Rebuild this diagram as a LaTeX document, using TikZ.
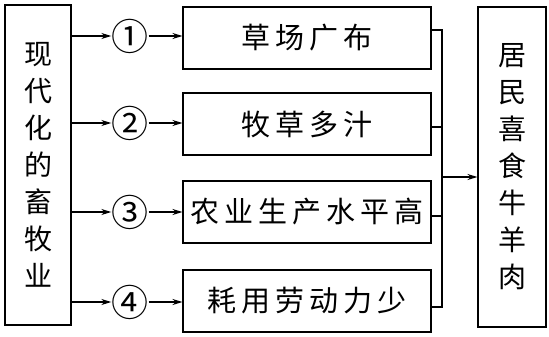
\documentclass[tikz,border=0pt]{standalone}
\usepackage{fontspec}
\newfontfamily\cjk{Noto Sans CJK SC}
\usetikzlibrary{arrows.meta,positioning}
\newcommand{\gp}{\hspace{5pt}}

\begin{document}
\begin{tikzpicture}[x=1pt,y=-1pt,
  tall/.style={draw,line width=1.1pt,minimum width=66pt,minimum height=320pt,align=center,
    font=\cjk\fontsize{28}{37}\selectfont,inner sep=0pt},
  box/.style={draw,line width=1.1pt,minimum width=248pt,minimum height=62pt,
    font=\cjk\fontsize{29}{30}\selectfont,inner sep=0pt},
  num/.style={font=\cjk\fontsize{37}{37}\selectfont,inner sep=0pt},
  arr/.style={line width=1.1pt,-{Stealth[length=10pt,width=6pt]}},
  ln/.style={line width=1.1pt}]
  \useasboundingbox (0,0) rectangle (549,337);
  \node[tall] (src) at (38,165) {现\\代\\化\\的\\畜\\牧\\业};
  \node[tall,minimum width=68pt] (res) at (512,167) {居\\民\\喜\\食\\牛\\羊\\肉};
  \node[box] (b1) at (307,38) {草\gp 场\gp 广\gp 布};
  \node[box] (b2) at (307,124) {牧\gp 草\gp 多\gp 汁};
  \node[box] (b3) at (307,212) {农\gp 业\gp 生\gp 产\gp 水\gp 平\gp 高};
  \node[box] (b4) at (307,301) {耗\gp 用\gp 劳\gp 动\gp 力\gp 少};
  \node[num] (n1) at (130,36) {①};
  \node[num] (n2) at (130,123) {②};
  \node[num] (n3) at (130,212) {③};
  \node[num] (n4) at (130,302) {④};
  \foreach \i in {1,...,4} {
    \draw[arr] (n\i -| src.east) -- (n\i.west);
    \draw[arr] (n\i.east) -- (n\i -| b\i.west);
  }
  % collect the four boxes
  \coordinate (jtop) at (442,30);
  \coordinate (jbot) at (442,307);
  \coordinate (jmid) at (442,177);
  \draw[ln] (jtop -| b1.east) -- (jtop) -- (jbot) -- (jbot -| b4.east);
  \draw[ln] ([yshift=-3pt]b2.east) -- ([yshift=-3pt]b2.east -| jtop);
  \draw[ln] ([yshift=-4pt]b3.east) -- ([yshift=-4pt]b3.east -| jtop);
  \draw[arr] (jmid) -- (jmid -| res.west);
\end{tikzpicture}
\end{document}
